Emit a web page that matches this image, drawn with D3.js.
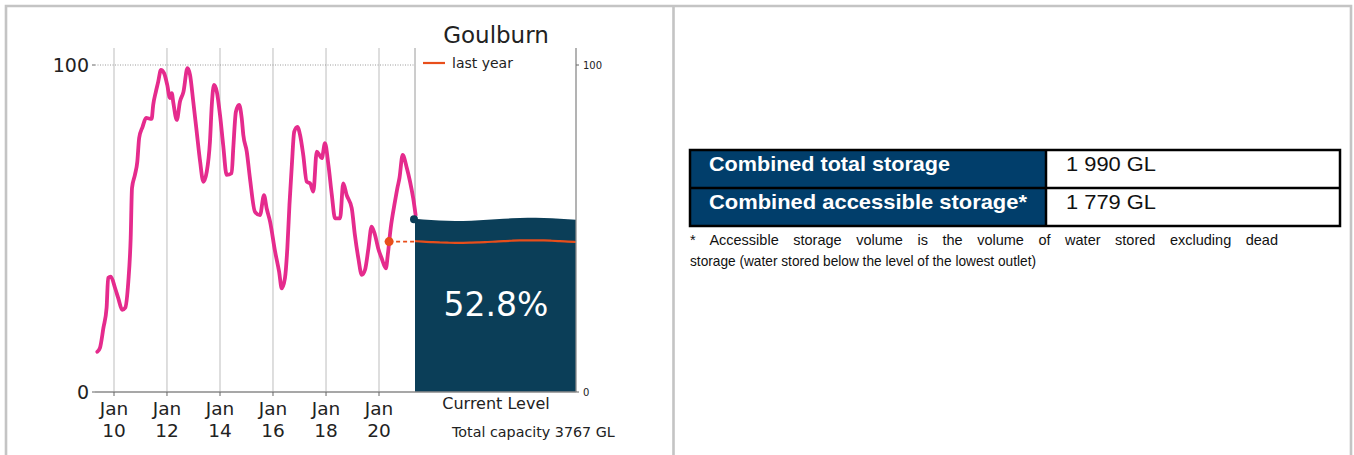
<!DOCTYPE html>
<html>
<head>
<meta charset="utf-8">
<script src="https://cdn.jsdelivr.net/npm/d3@7"></script>
<style>
  body { margin: 0; background: #fff; }
  svg { display: block; }
</style>
</head>
<body>
<svg id="chart" width="1354" height="455"></svg>
<script>
// storage history, % of capacity (decimal year)
var years = [2009.37,2009.47,2009.60,2009.72,2009.78,2009.88,2010.04,2010.16,2010.31,2010.42,
  2010.54,2010.63,2010.68,2010.79,2010.88,2010.95,2011.08,2011.21,2011.42,2011.48,
  2011.58,2011.67,2011.77,2011.89,2012.01,2012.11,2012.18,2012.24,2012.37,2012.49,
  2012.62,2012.77,2012.87,2012.99,2013.12,2013.25,2013.37,2013.50,2013.62,2013.69,
  2013.77,2013.88,2014.00,2014.12,2014.25,2014.44,2014.50,2014.60,2014.72,2014.82,
  2014.88,2015.01,2015.13,2015.32,2015.51,2015.66,2015.76,2015.89,2016.08,2016.23,
  2016.33,2016.45,2016.54,2016.62,2016.71,2016.80,2016.92,2017.02,2017.14,2017.27,
  2017.40,2017.52,2017.65,2017.75,2017.84,2017.96,2018.09,2018.22,2018.34,2018.53,
  2018.65,2018.78,2018.97,2019.09,2019.22,2019.35,2019.47,2019.60,2019.72,2019.85,
  2019.97,2020.10,2020.26,2020.33,2020.44,2020.60,2020.69,2020.77,2020.89,2021.05,
  2021.17,2021.29,2021.38];
var pct = [12.3,13.5,19.6,25.7,34.9,35.3,31.8,28.7,25.1,25.7,
  33.7,47.1,62.4,66.4,70.4,77.7,81.1,83.8,83.5,87.8,
  91.8,94.9,98.5,97.5,93.9,89.9,91.4,88.4,83.2,88.8,
  91.8,99.0,96.9,88.8,79.6,70.4,64.3,67.4,76.5,87.8,
  93.9,91.8,84.7,75.5,66.4,66.9,74.5,85.7,87.8,83.7,
  78.6,73.5,65.4,55.1,54.1,60.2,56.2,52.1,42.9,36.8,
  31.7,34.8,43.9,57.2,69.4,79.6,81.1,78.6,72.5,64.3,
  63.8,61.3,73.5,72.5,71.5,76.1,69.4,60.2,53.1,53.1,
  63.8,60.2,56.2,48.0,40.9,35.8,37.3,43.9,50.6,48.0,
  43.9,40.9,37.8,41.9,50.1,58.2,62.3,65.4,72.5,68.4,
  64.3,59.2,54.1];
var currentLevel = 52.8;
var lastYear = 46.0;
var lastYearDate = 2020.38;
var tickYears = [2010, 2012, 2014, 2016, 2018, 2020];
var tickLabels = ["10", "12", "14", "16", "18", "20"];
var title = "Goulburn";
var capacityText = "Total capacity 3767 GL";
var tableLabels = ["Combined total storage", "Combined accessible storage*"];
var tableValues = ["1 990 GL", "1 779 GL"];
var footnote = ["* Accessible storage volume is the volume of water stored excluding dead",
  "storage (water stored below the level of the lowest outlet)"];

function toDate(d) {
  var y = Math.floor(d);
  var start = new Date(y, 0, 1), end = new Date(y + 1, 0, 1);
  return new Date(start.getTime() + (d - y) * (end - start));
}

var svg = d3.select("#chart");
var font = "DejaVu Sans, sans-serif";
var pink = "#e52b8d", orange = "#e84e1b", navy = "#0b3e58";

// frame
svg.append("path")
  .attr("d", "M6,455 V6 H1351 V455 M673.5,6 V455")
  .attr("fill", "none").attr("stroke", "#c4c4c4").attr("stroke-width", 2.6);

var x = d3.scaleTime().domain([toDate(2010), toDate(2020)]).range([114, 379]);
var y = d3.scaleLinear().domain([0, 100]).range([392, 65]);
var panelL = 415, panelR = 576, gridTop = 48;

// vertical grid
svg.selectAll(".grid").data(tickYears).enter().append("line")
  .attr("x1", function(d) { return x(toDate(d)); })
  .attr("x2", function(d) { return x(toDate(d)); })
  .attr("y1", gridTop).attr("y2", y(0))
  .attr("stroke", "#bdbdbd").attr("stroke-width", 1);

// 100 dotted line
svg.append("line")
  .attr("x1", 95).attr("x2", panelL).attr("y1", y(100)).attr("y2", y(100))
  .attr("stroke", "#9a9a9a").attr("stroke-width", 1).attr("stroke-dasharray", "1,1.5");

// current level panel with wavy top
var waveX = d3.range(0, 1.0001, 0.05);
function wave(base, amp) {
  return waveX.map(function(t) {
    return [panelL + t * (panelR - panelL), y(base) + amp * Math.sin(t * Math.PI * 2.2 - 0.3)];
  });
}
var levelTop = wave(currentLevel, 1.6);
var levelArea = levelTop.concat([[panelR, y(0)], [panelL, y(0)]]);
svg.append("path")
  .attr("d", d3.line()(levelArea) + "Z")
  .attr("fill", navy);

svg.append("path")
  .attr("d", d3.line().curve(d3.curveBasis)(wave(lastYear, 1.3)))
  .attr("fill", "none").attr("stroke", orange).attr("stroke-width", 2.2);

// panel edges
svg.append("line").attr("x1", panelL).attr("x2", panelL).attr("y1", gridTop).attr("y2", y(currentLevel))
  .attr("stroke", "#9a9a9a").attr("stroke-width", 1);
svg.append("line").attr("x1", panelR).attr("x2", panelR).attr("y1", gridTop).attr("y2", y(0))
  .attr("stroke", "#8a8a8a").attr("stroke-width", 1.3);

// bottom axis
svg.append("line").attr("x1", 95).attr("x2", panelR).attr("y1", y(0)).attr("y2", y(0))
  .attr("stroke", "#8a8a8a").attr("stroke-width", 1.5);
svg.selectAll(".xt").data(tickYears).enter().append("line")
  .attr("x1", function(d) { return x(toDate(d)); })
  .attr("x2", function(d) { return x(toDate(d)); })
  .attr("y1", y(0)).attr("y2", y(0) + 4)
  .attr("stroke", "#666").attr("stroke-width", 1);

var xl = svg.selectAll(".xl").data(tickYears).enter().append("text")
  .attr("x", function(d) { return x(toDate(d)); })
  .attr("text-anchor", "middle")
  .style("font-family", font).style("font-size", "18.5px").style("fill", "#222");
xl.append("tspan").attr("x", function(d) { return x(toDate(d)); }).attr("y", 415).text("Jan");
xl.append("tspan").attr("x", function(d) { return x(toDate(d)); }).attr("y", 437)
  .text(function(d, i) { return tickLabels[i]; });

// left axis labels
[0, 100].forEach(function(v) {
  svg.append("text").attr("x", 89).attr("y", y(v) + 6.5).attr("text-anchor", "end")
    .style("font-family", font).style("font-size", "19px").style("fill", "#222").text(v);
  svg.append("line").attr("x1", 92).attr("x2", 95).attr("y1", y(v)).attr("y2", y(v))
    .attr("stroke", "#666");
  svg.append("line").attr("x1", panelR).attr("x2", panelR + 3).attr("y1", y(v)).attr("y2", y(v))
    .attr("stroke", "#666");
  svg.append("text").attr("x", 583).attr("y", y(v) + 4)
    .style("font-family", font).style("font-size", "10px").style("fill", "#222").text(v);
});

// history line
var pts = years.map(function(d, i) { return [toDate(d), pct[i]]; });
svg.append("path")
  .attr("d", d3.line().curve(d3.curveMonotoneX)
    .x(function(d) { return x(d[0]); }).y(function(d) { return y(d[1]); })(pts))
  .attr("fill", "none").attr("stroke", pink).attr("stroke-width", 3.8)
  .attr("stroke-linejoin", "round").attr("stroke-linecap", "round");

// last year marker
svg.append("line")
  .attr("x1", x(toDate(lastYearDate))).attr("x2", panelL)
  .attr("y1", y(lastYear)).attr("y2", y(lastYear))
  .attr("stroke", orange).attr("stroke-width", 1.6).attr("stroke-dasharray", "4,3");
svg.append("circle").attr("cx", x(toDate(lastYearDate))).attr("cy", y(lastYear)).attr("r", 4.5)
  .attr("fill", orange);
svg.append("circle").attr("cx", panelL - 1).attr("cy", y(currentLevel)).attr("r", 4)
  .attr("fill", navy);

// texts
svg.append("text").attr("x", 496).attr("y", 43).attr("text-anchor", "middle")
  .style("font-family", font).style("font-size", "23px").style("fill", "#222").text(title);
svg.append("line").attr("x1", 423).attr("x2", 445).attr("y1", 63).attr("y2", 63)
  .attr("stroke", orange).attr("stroke-width", 2.2);
svg.append("text").attr("x", 452).attr("y", 68)
  .style("font-family", font).style("font-size", "14px").style("fill", "#222").text("last year");
svg.append("text").attr("x", 496).attr("y", 316).attr("text-anchor", "middle")
  .style("font-family", font).style("font-size", "33px").style("fill", "#fff")
  .text(currentLevel.toFixed(1) + "%");
svg.append("text").attr("x", 496).attr("y", 409).attr("text-anchor", "middle")
  .style("font-family", font).style("font-size", "16px").style("fill", "#222").text("Current Level");
svg.append("text").attr("x", 452).attr("y", 437)
  .style("font-family", font).style("font-size", "14.3px").style("fill", "#222").text(capacityText);

// storage table
var tx0 = 690, tx1 = 1046, tx2 = 1340, ty0 = 150, rowH = 38;
var labelW = [241, 318], valueW = [90, 90];
var arial = "Liberation Sans, Arial, sans-serif";
tableLabels.forEach(function(lab, i) {
  var ty = ty0 + i * rowH;
  svg.append("rect").attr("x", tx0).attr("y", ty).attr("width", tx1 - tx0).attr("height", rowH)
    .attr("fill", "#013e6b");
  svg.append("text").attr("x", 709).attr("y", ty + 21)
    .attr("textLength", labelW[i]).attr("lengthAdjust", "spacingAndGlyphs")
    .style("font-family", arial).style("font-weight", "bold").style("font-size", "20.5px")
    .style("fill", "#fff").text(lab);
  svg.append("text").attr("x", 1066).attr("y", ty + 21)
    .attr("textLength", valueW[i]).attr("lengthAdjust", "spacingAndGlyphs")
    .style("font-family", arial).style("font-size", "20px").style("fill", "#111").text(tableValues[i]);
});
svg.append("path")
  .attr("d", "M" + tx0 + "," + ty0 + "H" + tx2 + "V" + (ty0 + 2 * rowH) + "H" + tx0 + "Z" +
    "M" + tx0 + "," + (ty0 + rowH) + "H" + tx2 + "M" + tx1 + "," + ty0 + "V" + (ty0 + 2 * rowH))
  .attr("fill", "none").attr("stroke", "#000").attr("stroke-width", 2.5);

// footnote, first line justified through word spacing
var fn1 = svg.append("text").attr("x", 690).attr("y", 245)
  .style("font-family", arial).style("font-size", "14.5px").style("fill", "#111").text(footnote[0]);
var natural = fn1.node().getComputedTextLength();
var gaps = footnote[0].split(" ").length - 1;
fn1.style("word-spacing", Math.max(0, (588 - natural) / gaps) + "px");
svg.append("text").attr("x", 690).attr("y", 266)
  .attr("textLength", 346).attr("lengthAdjust", "spacingAndGlyphs")
  .style("font-family", arial).style("font-size", "14.5px").style("fill", "#111")
  .text(footnote[1]);
</script>
</body>
</html>
